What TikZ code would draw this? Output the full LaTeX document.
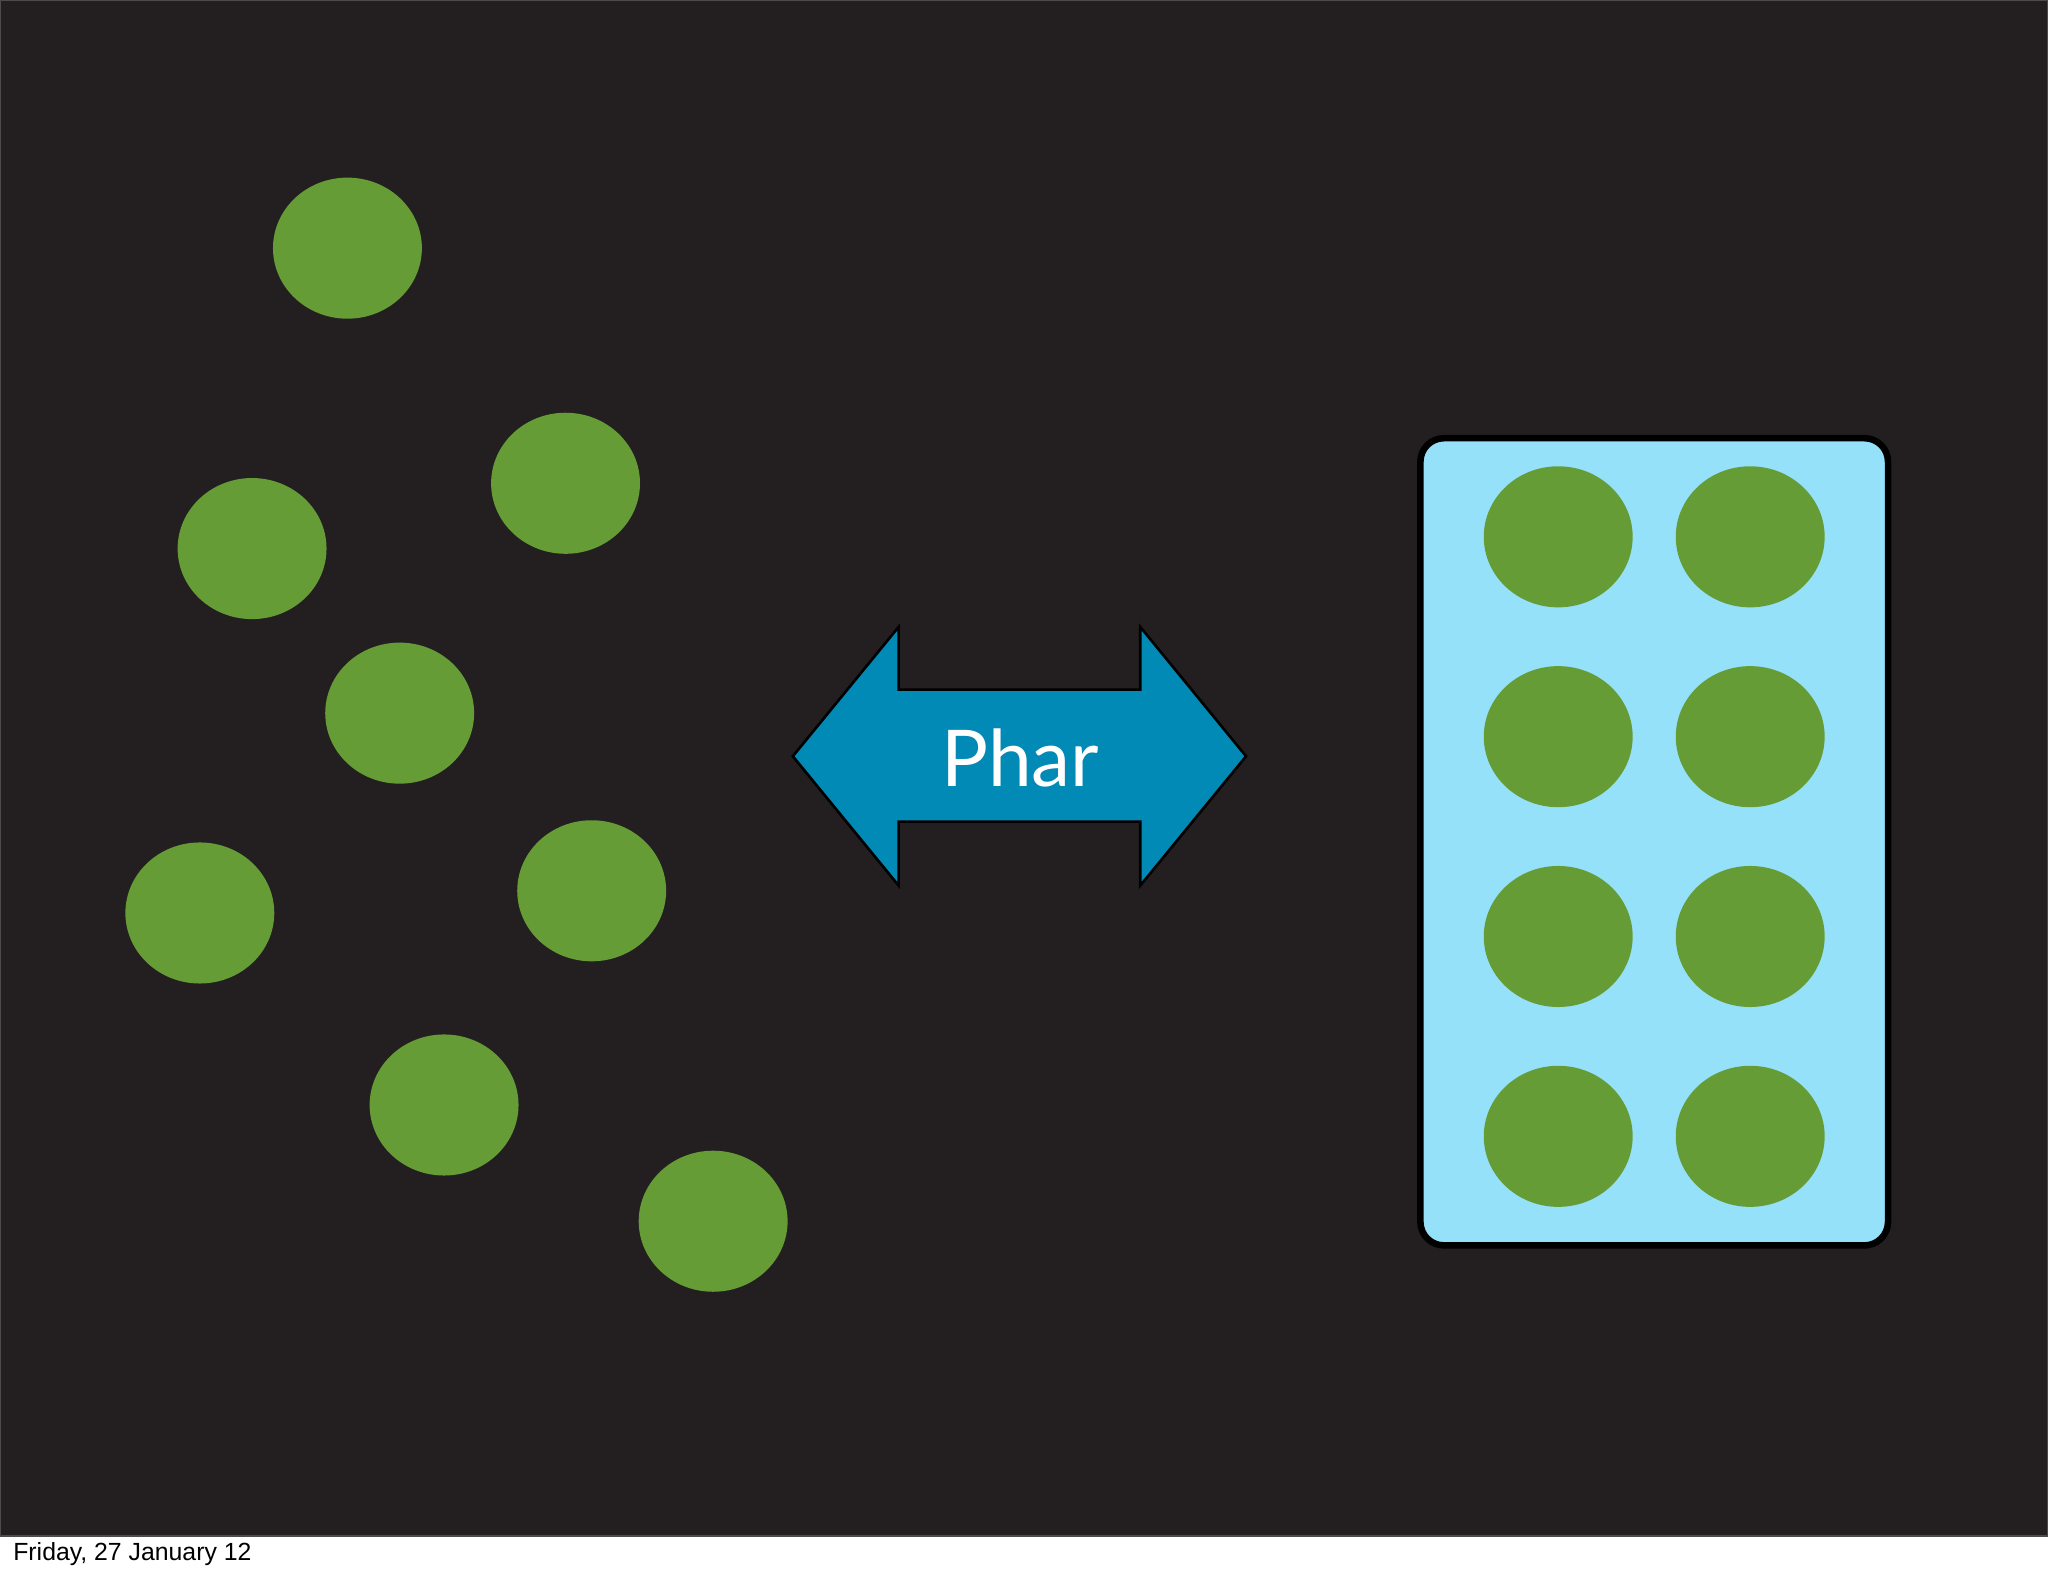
\documentclass[tikz,border=0pt]{standalone}
\usepackage{fontspec}
\setmainfont{Liberation Sans}
\newfontfamily\arrowfont{Lato}
\definecolor{bg}{HTML}{231F20}
\definecolor{dot}{HTML}{669C35}
\definecolor{box}{HTML}{95E1F9}
\definecolor{arr}{HTML}{008AB5}
\begin{document}
\begin{tikzpicture}[x=1pt,y=-1pt,
  dotst/.style={fill=dot,draw=none},
]
\useasboundingbox (0,0) rectangle (1568,1206);
\fill[white] (0,0) rectangle (1568,1206);
\fill[bg,draw=gray!60!black,line width=1pt] (0.5,0.5) rectangle (1567.5,1176);
\foreach \n/\x/\y in {a/266/190,b/433/370,c/193/420,d/306/546,e/153/699,f/453/682,g/340/846,h/546/935}
  \fill[dotst] (\x,\y) ellipse [x radius=57, y radius=54];
\node[draw=black,line width=5pt,fill=box,rounded corners=18pt,minimum width=358pt,minimum height=618pt,inner sep=0pt] (tray) at (1266.5,644.5) {};
\foreach \x in {1193,1340}
  \foreach \y in {411,564,717,870}
    \fill[dotst] (\x,\y) ellipse [x radius=57, y radius=54];
\draw[fill=arr,draw=black,line width=2pt] (607,579) -- (688,480) -- (688,528) -- (873,528) -- (873,480) -- (954,579) -- (873,678) -- (873,629) -- (688,629) -- (688,678) -- cycle;
\node[text=white,font=\arrowfont\fontsize{60}{62}\selectfont] (lbl) at (781,580) {Phar};
\node[anchor=west,font=\fontsize{19}{20}\selectfont,inner sep=0pt] (date) at (10,1190) {Friday, 27 January 12};
\end{tikzpicture}
\end{document}
